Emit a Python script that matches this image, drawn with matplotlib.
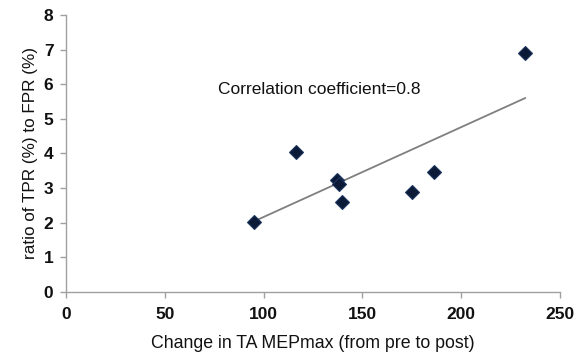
import matplotlib
matplotlib.use("Agg")
import matplotlib.pyplot as plt
import numpy as np

# values
mep_change = [95.1, 116.2, 137.0, 138.3, 139.8, 174.9, 186.2, 232.3]
tpr_fpr_ratio = [2.01, 4.03, 3.22, 3.11, 2.61, 2.88, 3.45, 6.90]
x_ticks = [0, 50, 100, 150, 200, 250]
y_ticks = [0, 1, 2, 3, 4, 5, 6, 7, 8]

plt.rcParams['font.family'] = ['Liberation Sans', 'DejaVu Sans']

fig = plt.figure(figsize=(5.78, 3.56), dpi=100)
ax = fig.add_axes([0.114, 0.180, 0.855, 0.778])

x = np.array(mep_change)
y = np.array(tpr_fpr_ratio)
slope, icpt = np.polyfit(x, y, 1)
xf = np.array([x.min(), x.max()])
ax.plot(xf, slope * xf + icpt, color="#7f7f7f", lw=1.3, zorder=2)
ax.plot(x, y, "D", color="#0b1a36", markersize=7, markeredgecolor="#1c3560",
        markeredgewidth=0.8, zorder=3)

ax.text(77, 5.84, "Correlation coefficient=0.8", fontsize=12.5, va="center",
        ha="left", color="#111111")

ax.set_xlim(0, 250)
ax.set_ylim(0, 8)
ax.set_xticks(x_ticks)
ax.set_yticks(y_ticks)
for s in ["top", "right"]:
    ax.spines[s].set_visible(False)
for s in ["left", "bottom"]:
    ax.spines[s].set_color("#a0a0a0")
    ax.spines[s].set_linewidth(1.0)
ax.tick_params(colors="#a0a0a0", length=4, width=1.0, direction="out")
for lab in ax.get_xticklabels() + ax.get_yticklabels():
    lab.set_color("#111111")
    lab.set_fontsize(12.5)
    lab.set_fontweight("bold")
ax.tick_params(axis="x", pad=7)
ax.tick_params(axis="y", pad=5)

ax.set_xlabel("Change in TA MEPmax (from pre to post)", fontsize=12.8, color="#111111", labelpad=9)
ax.set_ylabel("ratio of TPR (%) to FPR (%)", fontsize=12.3, color="#111111", labelpad=4)

fig.savefig("out.png", dpi=100, facecolor="white")
